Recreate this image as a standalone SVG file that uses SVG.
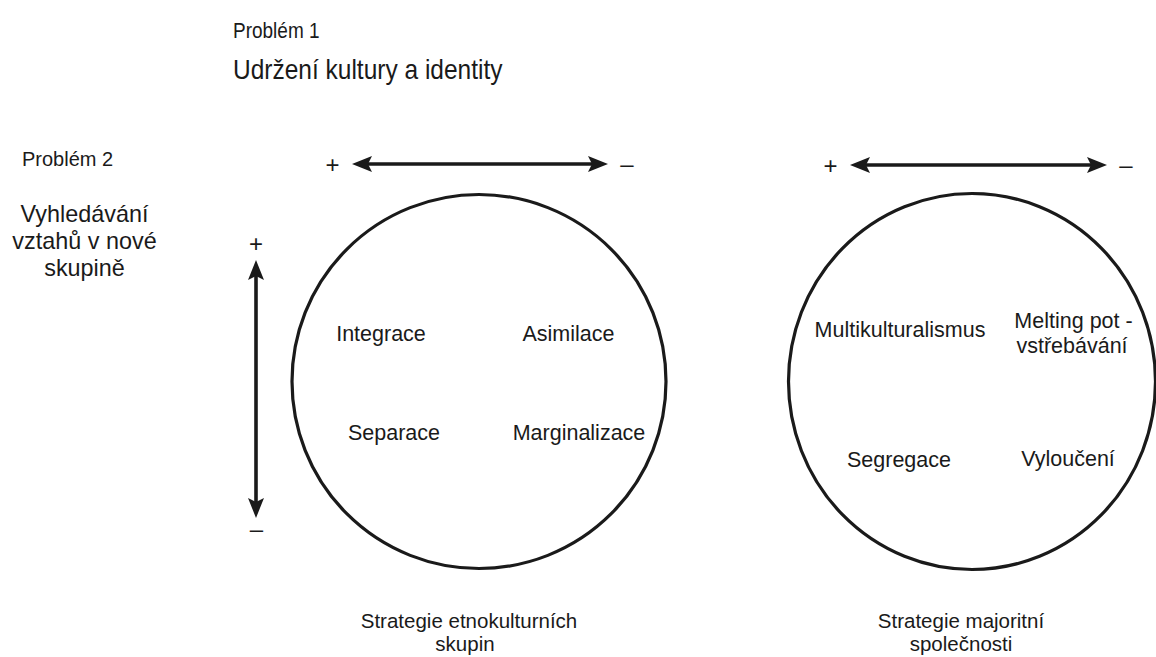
<svg xmlns="http://www.w3.org/2000/svg" width="1156" height="657" viewBox="0 0 1156 657">
<style>
text{font-family:"Liberation Sans",Arial,Helvetica,sans-serif;fill:#1a1a1a}
.t{font-size:21.5px;text-anchor:middle}
.cap{font-size:20.5px;text-anchor:middle}
.sign{font-size:24px;text-anchor:middle}
.ring{fill:none;stroke:#1a1a1a;stroke-width:3.2}
.axis{stroke:#1a1a1a;stroke-width:3.6;fill:none;marker-start:url(#ah);marker-end:url(#ah)}
</style>
<defs>
<marker id="ah" viewBox="0 0 20 16" refX="10" refY="8" markerWidth="20" markerHeight="16" markerUnits="userSpaceOnUse" orient="auto-start-reverse">
<path d="M0,0 L20,8 L0,16 L4,8 Z" fill="#1a1a1a"/>
</marker>
</defs>
<rect width="1156" height="657" fill="#fff"/>
<g id="titles">
<text x="233" y="38" font-size="19" transform="matrix(1,0,0,1.15,0,-5.7)">Problém 1</text>
<text x="233" y="79" font-size="24.5" transform="matrix(1,0,0,1.15,0,-11.85)">Udržení kultury a identity</text>
<text x="22" y="166" font-size="20">Problém 2</text>
<text x="84.5" y="222" font-size="23.4" text-anchor="middle">Vyhledávání</text>
<text x="84.5" y="249" font-size="23.4" text-anchor="middle">vztahů v nové</text>
<text x="84.5" y="276" font-size="23.4" text-anchor="middle">skupině</text>
</g>
<g id="connectors">
<line class="axis" x1="362" y1="164" x2="598" y2="164"/>
<line class="axis" x1="860" y1="165" x2="1097" y2="165"/>
<line class="axis" x1="256" y1="270" x2="256" y2="508"/>
<text class="sign" x="332.5" y="173">+</text>
<text class="sign" x="627" y="172" font-size="26">–</text>
<text class="sign" x="830.5" y="174">+</text>
<text class="sign" x="1126" y="173" font-size="26">–</text>
<text class="sign" x="256" y="252">+</text>
<text class="sign" x="256.5" y="537" font-size="26">–</text>
</g>
<g id="node-ethno">
<circle class="ring" cx="479" cy="381.5" r="187"/>
<text class="t" x="381" y="341">Integrace</text>
<text class="t" x="568.5" y="341">Asimilace</text>
<text class="t" x="394" y="440">Separace</text>
<text class="t" x="579" y="440">Marginalizace</text>
<text class="cap" x="469" y="628">Strategie etnokulturních</text>
<text class="cap" x="465" y="651">skupin</text>
</g>
<g id="node-major">
<ellipse class="ring" cx="972" cy="381.5" rx="183.5" ry="188"/>
<text class="t" x="900" y="337">Multikulturalismus</text>
<text class="t" x="1073.5" y="328">Melting pot -</text>
<text class="t" x="1072" y="353">vstřebávání</text>
<text class="t" x="899" y="467">Segregace</text>
<text class="t" x="1068" y="466">Vyloučení</text>
<text class="cap" x="961" y="628">Strategie majoritní</text>
<text class="cap" x="961" y="651">společnosti</text>
</g>
</svg>
